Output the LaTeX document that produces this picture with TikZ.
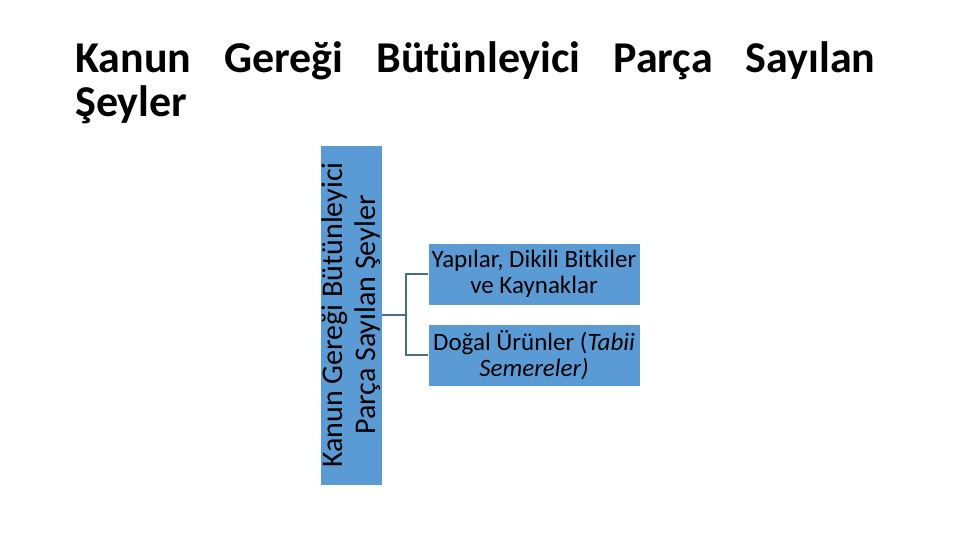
\documentclass[tikz,border=0pt]{standalone}
\usepackage{fontspec}
\setmainfont{Carlito}
\definecolor{boxblue}{HTML}{5B9BD5}
\definecolor{linecol}{HTML}{4A6C8A}
\begin{document}
\begin{tikzpicture}[x=1pt,y=-1pt,
  box/.style={fill=boxblue,draw=white,line width=0.6pt,inner sep=0pt,align=center,font=\fontsize{25}{26}\selectfont},
  conn/.style={draw=linecol,line width=1.4pt}]
\useasboundingbox (0,0) rectangle (960,540);
\node[anchor=base west,inner sep=0pt,font=\bfseries\fontsize{44}{44}\selectfont] (t1) at (75,73)
  {\makebox[800pt][s]{Kanun\hfill Gereği\hfill Bütünleyici\hfill Parça\hfill Sayılan}};
\node[anchor=base west,inner sep=0pt,font=\bfseries\fontsize{44}{44}\selectfont] (t2) at (75,117) {Şeyler};
\node[box,minimum width=340pt,minimum height=62pt,rotate=90,font=\fontsize{30}{33}\selectfont] (main) at (351,315)
  {Kanun Gereği Bütünleyici\\Parça Sayılan Şeyler};
\node[box,minimum width=212pt,minimum height=62pt] (b1) at (534,274) {Yapılar, Dikili Bitkiler\\ve Kaynaklar};
\node[box,minimum width=212pt,minimum height=62pt] (b2) at (534,355) {Doğal Ürünler (\textit{Tabii}\\\textit{Semereler)}};
\coordinate (j) at (406,315);
\draw[conn] (main.south) -- (j);
\draw[conn] (b1.west) -| (j);
\draw[conn] (b2.west) -| (j);
\end{tikzpicture}
\end{document}
